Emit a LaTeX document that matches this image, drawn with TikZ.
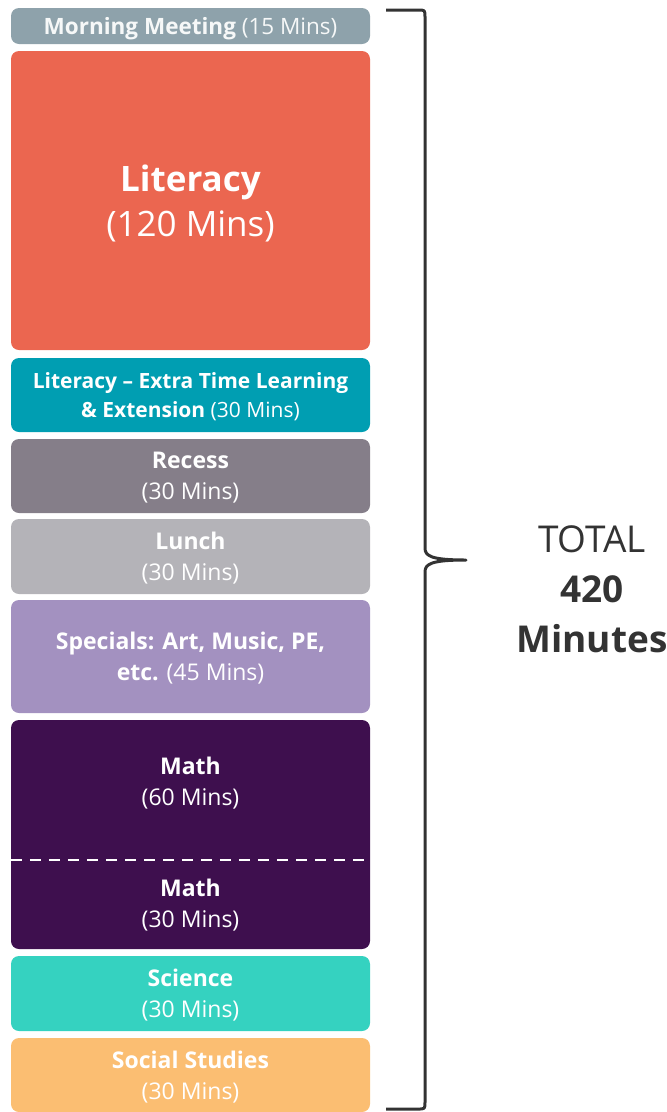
\documentclass[tikz,border=0pt]{standalone}
\usepackage{fontspec}
\setmainfont{Open Sans}

\definecolor{morning}{HTML}{8EA2AB}
\definecolor{literacy}{HTML}{EB6650}
\definecolor{extra}{HTML}{009EB2}
\definecolor{recess}{HTML}{857E89}
\definecolor{lunch}{HTML}{B4B3B8}
\definecolor{specials}{HTML}{A391C0}
\definecolor{math}{HTML}{3E0F4E}
\definecolor{science}{HTML}{35D2C0}
\definecolor{social}{HTML}{FBBE72}
\definecolor{bracegray}{HTML}{333333}

\begin{document}
\begin{tikzpicture}[x=1pt,y=-1pt,
    slot/.style={rounded corners=8pt, minimum width=359pt, inner sep=0pt, text depth=0pt, text=white, align=center, font=\fontsize{23}{31}\selectfont},
    total/.style={text=bracegray, align=center, font=\fontsize{37}{50}\selectfont}]
    \useasboundingbox (0,0) rectangle (667,1112);

    % Blocks of the day
    \node [slot, fill=morning, minimum height=36pt, text=white!92!morning, font=\fontsize{22.5}{31}\selectfont](morning) at (190.5,26) {\textbf{Morning Meeting} (15 Mins)};
    \node [slot, fill=literacy, minimum height=299pt, font=\fontsize{35}{45}\selectfont](literacy) at (190.5,200.5) {\textbf{Literacy}\\(120 Mins)};
    \node [slot, fill=extra, minimum height=74pt, font=\fontsize{21}{29}\selectfont](extra) at (190.5,395) {\textbf{Literacy -- Extra Time Learning}\\\textbf{\& Extension} (30 Mins)};
    \node [slot, fill=recess, minimum height=74pt](recess) at (190.5,476) {\textbf{Recess}\\(30 Mins)};
    \node [slot, fill=lunch, minimum height=75pt](lunch) at (190.5,556.5) {\textbf{Lunch}\\(30 Mins)};
    \node [slot, fill=specials, minimum height=113pt](specials) at (190.5,656.5) {\textbf{Specials: Art, Music, PE,}\\\textbf{etc.} (45 Mins)};
    \node [slot, fill=math, minimum height=229pt](math) at (190.5,834.5) {};
    \node [slot, fill=science, minimum height=75pt](science) at (190.5,993.5) {\textbf{Science}\\(30 Mins)};
    \node [slot, fill=social, minimum height=74pt](social) at (190.5,1075) {\textbf{Social Studies}\\(30 Mins)};

    % Math split in two parts
    \node [slot](mathA) at (190.5,781) {\textbf{Math}\\(60 Mins)};
    \node [slot](mathB) at (190.5,903.5) {\textbf{Math}\\(30 Mins)};
    \coordinate (mathsplit) at (190.5,860);
    \draw [white, line width=2.5pt, dash pattern=on 11pt off 8pt] (math.west |- mathsplit) -- (math.east |- mathsplit);

    % Brace
    \coordinate (bracetop) at (386,10);
    \coordinate (bracetip) at (466,560);
    \coordinate (bracebot) at (386,1109);
    \draw [bracegray, line width=3pt, line join=round]
        (bracetop) -- (418,10) .. controls (425,10) .. (425,17) -- (425,548)
        .. controls (425,556) and (431,560) .. (bracetip)
        .. controls (431,560) and (425,564) .. (425,572) -- (425,1102)
        .. controls (425,1109) .. (418,1109) -- (bracebot);

    % Total
    \node [total](total) at (592,589) {TOTAL\\\textbf{420}\\\textbf{Minutes}};
\end{tikzpicture}
\end{document}
